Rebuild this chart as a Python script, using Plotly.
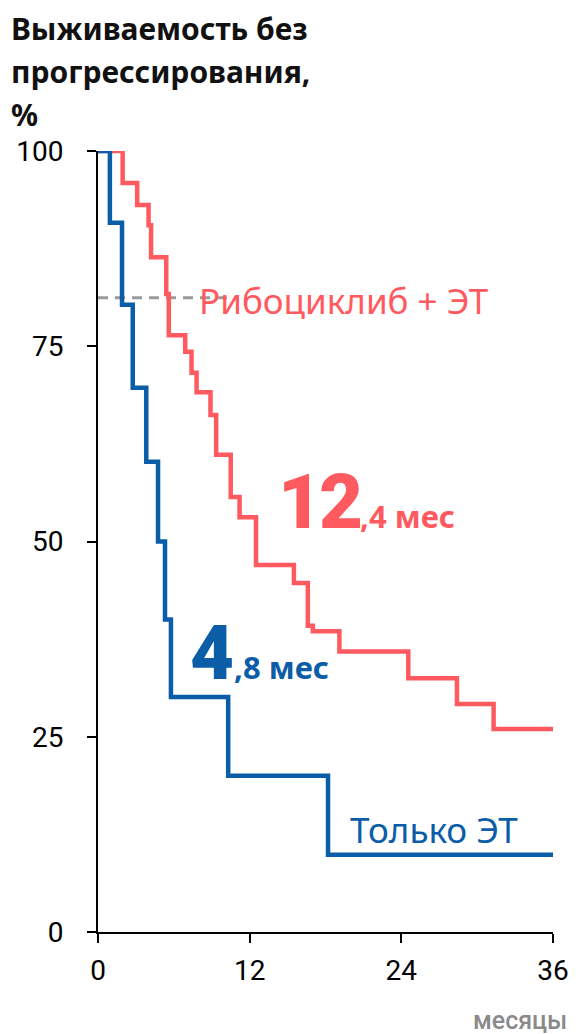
import plotly.graph_objects as go

# ---- data ----
months_ribo = [0, 1.95, 3.1, 4.0, 4.2, 5.4, 5.6, 6.9, 7.4, 7.8, 8.9, 9.35, 10.5, 11.2,
               12.5, 15.5, 16.6, 17.0, 19.1, 24.55, 28.4, 31.3, 36]
pfs_ribo = [100, 95.9, 93.1, 90.5, 86.4, 81.7, 76.4, 74.3, 71.6, 69.1, 66.2, 61.1, 55.7, 53.1,
            47.0, 44.7, 39.2, 38.5, 35.9, 32.5, 29.2, 26.0, 26.0]

months_et = [0, 0.94, 1.9, 2.75, 3.82, 4.75, 5.3, 5.77, 10.3, 18.2, 36]
pfs_et = [100, 90.8, 80.3, 69.7, 60.2, 50.0, 40.0, 30.1, 20.0, 9.9, 9.9]

x_ticks = [0, 12, 24, 36]
y_ticks = [0, 25, 50, 75, 100]

series_names = ["Рибоциклиб + ЭТ", "Только ЭТ"]
median_ribo = ("12", ",4 мес")
median_et = ("4", ",8 мес")
ref_line_y = 81.2
ref_line_end = 10.8

RED = "#FF5A5F"
BLUE = "#0B5DA8"

fig = go.Figure()
fig.add_shape(type="line", x0=0, x1=ref_line_end, y0=ref_line_y, y1=ref_line_y, xref="x", yref="y",
              line=dict(color="#9A9A9A", width=3, dash="10px,7px"), layer="below")
fig.add_trace(go.Scatter(x=months_ribo, y=pfs_ribo, mode="lines", line=dict(shape="hv", color=RED, width=4.5),
                         cliponaxis=False, showlegend=False, hoverinfo="skip"))
fig.add_trace(go.Scatter(x=months_et, y=pfs_et, mode="lines", line=dict(shape="hv", color=BLUE, width=4.5),
                         cliponaxis=False, showlegend=False, hoverinfo="skip"))

# series labels
fig.add_annotation(x=7.85, y=80.9, xref="x", yref="y", text=series_names[0], showarrow=False,
                   xanchor="left", yanchor="middle",
                   font=dict(family="Noto Sans", size=35, color=RED))
fig.add_annotation(x=19.75, y=13.1, xref="x", yref="y", text=series_names[1], showarrow=False,
                   xanchor="left", yanchor="middle",
                   font=dict(family="Noto Sans", size=35, color=BLUE))

# medians
fig.add_annotation(x=14.05, y=51.1, xref="x", yref="y",
                   text=(f"<span style='font-family:Roboto;font-size:76px;font-weight:900;letter-spacing:-3px'>"
                         f"{median_ribo[0]}</span>{median_ribo[1]}"),
                   showarrow=False, xanchor="left", yanchor="bottom", yshift=-16,
                   font=dict(family="Noto Sans", size=31, color=RED, weight="bold"))
fig.add_annotation(x=7.12, y=31.9, xref="x", yref="y",
                   text=(f"<span style='font-family:Roboto;font-size:76px;font-weight:900'>"
                         f"{median_et[0]}</span>{median_et[1]}"),
                   showarrow=False, xanchor="left", yanchor="bottom", yshift=-17,
                   font=dict(family="Noto Sans", size=31, color=BLUE, weight="bold"))

# title lines
title_lines = ["Выживаемость без", "прогрессирования,", "%"]
title_shifts = [123, 80, 37]
for line, ys in zip(title_lines, title_shifts):
    fig.add_annotation(x=0, y=1, xref="paper", yref="paper", text=f"<b>{line}</b>", showarrow=False,
                       xanchor="left", yanchor="middle", xshift=-89, yshift=ys,
                       font=dict(family="Noto Sans", size=30, color="#111111"))

fig.add_annotation(x=1, y=0, xref="paper", yref="paper", text="месяцы", showarrow=False,
                   xanchor="right", yanchor="middle", xshift=16, yshift=-88,
                   font=dict(family="Roboto", size=25, color="#8A8A8A", weight=500))

fig.update_layout(
    width=581, height=1034,
    margin=dict(l=98, r=21, t=151, b=102),
    plot_bgcolor="white", paper_bgcolor="white",
    showlegend=False,
    xaxis=dict(range=[0, 36], tickvals=x_ticks, ticktext=[str(v) for v in x_ticks],
               showgrid=False, zeroline=False, showline=True, linecolor="black", linewidth=2,
               ticks="outside", ticklen=9, tickwidth=2, tickcolor="black",
               tickfont=dict(family="Roboto", size=28, color="black"), ticklabelstandoff=3),
    yaxis=dict(range=[0, 100], tickvals=y_ticks, ticktext=[str(v) for v in y_ticks],
               showgrid=False, zeroline=False, showline=True, linecolor="black", linewidth=2,
               ticks="outside", ticklen=9, tickwidth=2, tickcolor="black",
               tickfont=dict(family="Roboto", size=28, color="black"), ticklabelstandoff=18),
)

fig.write_html("out.html", post_script="document.body.style.margin='0px';",
               config={"displayModeBar": False})
